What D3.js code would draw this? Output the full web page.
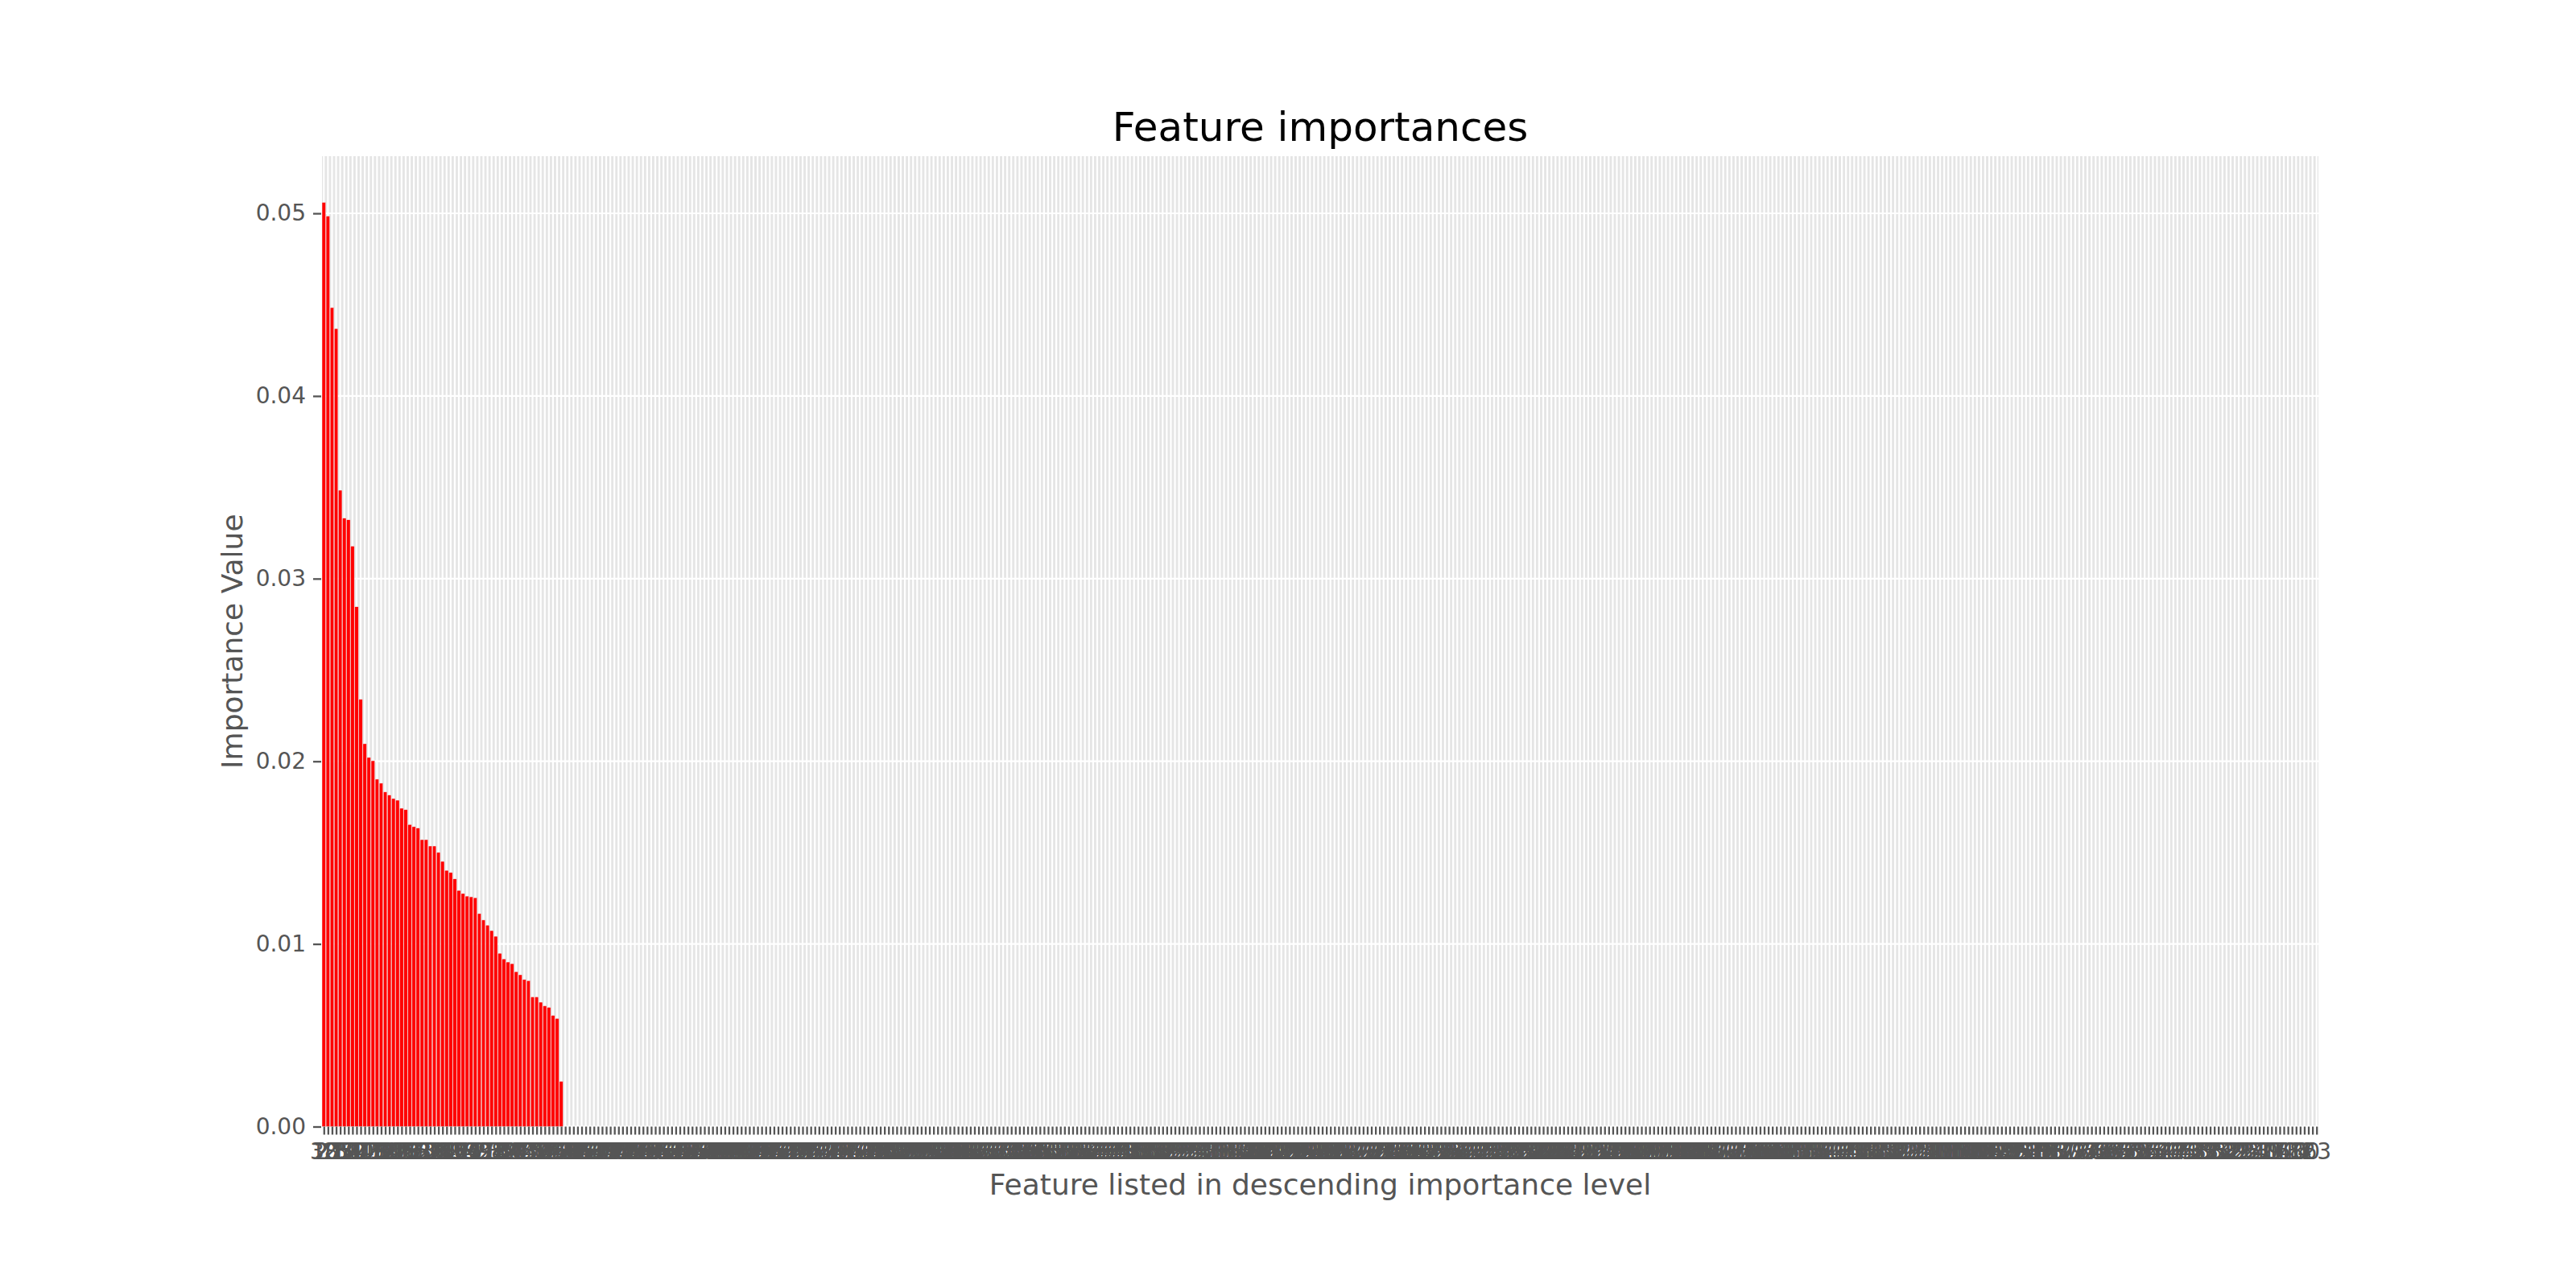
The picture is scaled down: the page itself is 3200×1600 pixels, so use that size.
<!DOCTYPE html>
<html>
<head>
<meta charset="utf-8">
<script src="https://cdn.jsdelivr.net/npm/d3@7"></script>
<style>
  html, body { margin: 0; padding: 0; background: #ffffff; }
  svg { display: block; font-family: "DejaVu Sans", sans-serif; }
</style>
</head>
<body>
<svg id="chart" width="3200" height="1600"></svg>
<script>
// ---- data ----
const chartTitle = "Feature importances";
const xAxisTitle = "Feature listed in descending importance level";
const yAxisTitle = "Importance Value";

// feature indices of the features that carry importance (descending order)
const topFeatures = [38, 27, 105, 212, 3, 250, 61, 190, 44, 301, 12, 77, 233, 158, 400, 9, 86, 345, 129, 270,
  18, 463, 55, 172, 290, 316, 101, 7, 222, 369, 140, 31, 84, 257, 411, 66, 199, 5, 123, 338,
  478, 92, 15, 240, 180, 357, 70, 21, 145, 265, 432, 110, 49, 207, 385, 1, 163, 296, 451];

// importance values of those features
const topImportances = [0.0506, 0.04985, 0.04484, 0.04369, 0.03484, 0.03331, 0.03322, 0.03178, 0.02846,
  0.02339, 0.02096, 0.02021, 0.02003, 0.01902, 0.01880, 0.01832, 0.01815, 0.01796, 0.01787,
  0.01743, 0.01735, 0.01654, 0.01642, 0.01634, 0.01571, 0.01571, 0.01536, 0.01536, 0.01501,
  0.01452, 0.01403, 0.01391, 0.01356, 0.01293, 0.01276, 0.01262, 0.01258, 0.01253, 0.01166,
  0.01131, 0.01103, 0.01073, 0.01042, 0.00949, 0.00918, 0.00901, 0.00892, 0.00848, 0.00831,
  0.00805, 0.00799, 0.00710, 0.00710, 0.00681, 0.00661, 0.00653, 0.00609, 0.00592, 0.00248];

// remaining features (importance 0), in the order they were listed
const zeroFeatures = [487,486,485,484,483,482,481,480,479,477,476,475,474,473,472,471,470,469,468,467,466,465,464,462,461,460,459,458,457,456,455,454,453,452,450,449,448,447,446,445,444,443,442,441,440,439,438,437,436,435,434,433,431,430,429,428,427,426,425,424,423,422,421,420,419,418,417,416,415,414,413,412,410,409,408,407,406,405,404,403,402,401,399,398,397,396,395,394,393,392,391,390,389,388,387,386,384,383,382,381,380,379,378,377,376,375,374,373,372,371,370,368,367,366,365,364,363,362,361,360,359,358,356,355,354,353,352,351,350,349,348,347,346,344,343,342,341,340,339,337,336,335,334,333,332,331,330,329,328,327,326,325,324,323,322,321,320,319,318,317,315,314,313,312,311,310,309,308,307,306,305,304,303,302,300,299,298,297,295,294,293,292,291,289,288,287,286,285,284,283,282,281,280,279,278,277,276,275,274,273,272,271,269,268,267,266,264,263,262,261,260,259,258,256,255,254,253,252,251,249,248,247,246,245,244,243,242,241,239,238,237,236,235,234,232,231,230,229,228,227,226,225,224,223,221,220,219,218,217,216,215,214,213,211,210,209,208,206,205,204,203,202,201,200,198,197,196,195,194,193,192,191,189,188,187,186,185,184,183,182,181,179,178,177,176,175,174,173,171,170,169,168,167,166,165,164,162,161,160,159,157,156,155,154,153,152,151,150,149,148,147,146,144,143,142,141,139,138,137,136,135,134,133,132,131,130,128,127,126,125,124,122,121,120,119,118,117,116,115,114,113,112,111,109,108,107,106,104,103,102,100,99,98,97,96,95,94,93,91,90,89,88,87,85,83,82,81,80,79,78,76,75,74,73,72,71,69,68,67,65,64,62,60,59,58,57,56,54,53,52,51,50,48,47,46,45,43,42,41,40,39,37,36,35,34,33,32,30,29,28,26,25,24,23,22,20,19,17,16,14,13,11,10,8,6,4,2,0,63];

const yTickValues = [0.00, 0.01, 0.02, 0.03, 0.04, 0.05];

// ---- table built from the arrays ----
const labels = topFeatures.concat(zeroFeatures).map(String);
const n = labels.length;
const barData = topImportances.map((v, i) => ({ pos: i, value: v }));

// ---- layout ----
const plot = { left: 400, right: 2880, top: 194, bottom: 1399.5 };
const svg = d3.select("#chart");
svg.append("rect").attr("width", 3200).attr("height", 1600).attr("fill", "#ffffff");

const x = d3.scaleLinear().domain([-0.45, n - 0.55]).range([plot.left, plot.right]);
const y = d3.scaleLinear().domain([0, d3.max(topImportances) * 1.05]).range([plot.bottom, plot.top]);
const step = x(1) - x(0);

// axes background
svg.append("rect")
  .attr("x", plot.left).attr("y", plot.top)
  .attr("width", plot.right - plot.left).attr("height", plot.bottom - plot.top)
  .attr("fill", "#E5E5E5");

// grid
const grid = svg.append("g");
grid.selectAll("line.v").data(d3.range(n)).join("line")
  .attr("class", "v")
  .attr("x1", d => x(d)).attr("x2", d => x(d))
  .attr("y1", plot.top).attr("y2", plot.bottom)
  .attr("stroke", "#ffffff").attr("stroke-width", 2.2);
grid.selectAll("line.h").data(yTickValues).join("line")
  .attr("class", "h")
  .attr("x1", plot.left).attr("x2", plot.right)
  .attr("y1", d => y(d)).attr("y2", d => y(d))
  .attr("stroke", "#ffffff").attr("stroke-width", 2.2);

// bars
svg.append("g").selectAll("rect").data(barData).join("rect")
  .attr("x", d => x(d.pos) - step * 0.45)
  .attr("width", step * 0.9)
  .attr("y", d => y(d.value))
  .attr("height", d => y(0) - y(d.value))
  .attr("fill", "#FF0000")
  .attr("stroke", "#EEEEEE")
  .attr("stroke-width", 0.5);

// y axis
const yAxis = d3.axisLeft(y).tickValues(yTickValues).tickFormat(d3.format(".2f"))
  .tickSize(10).tickPadding(9);
const gy = svg.append("g").attr("transform", `translate(${plot.left - 1},0)`).call(yAxis);
gy.select(".domain").remove();
gy.selectAll(".tick line").attr("stroke", "#555555").attr("stroke-width", 2.3);
gy.selectAll(".tick text").attr("fill", "#555555").attr("font-size", 28)
  .attr("font-family", "DejaVu Sans, sans-serif");

// x axis
const xAxis = d3.axisBottom(x).tickValues(d3.range(n)).tickFormat(i => labels[i])
  .tickSize(10).tickPadding(10);
const gx = svg.append("g").attr("transform", `translate(0,${plot.bottom})`).call(xAxis);
gx.select(".domain").remove();
gx.selectAll(".tick line").attr("stroke", "#555555").attr("stroke-width", 2.3);
gx.selectAll(".tick text").attr("fill", "#555555").attr("font-size", 28)
  .attr("font-family", "DejaVu Sans, sans-serif")
  .attr("dy", null).attr("y", 40.5).attr("dominant-baseline", "alphabetic");

// titles
svg.append("text").attr("x", (plot.left + plot.right) / 2).attr("y", 175)
  .attr("text-anchor", "middle").attr("font-size", 50).attr("fill", "#000000")
  .text(chartTitle);
svg.append("text").attr("x", (plot.left + plot.right) / 2).attr("y", 1484)
  .attr("text-anchor", "middle").attr("font-size", 36).attr("fill", "#555555")
  .text(xAxisTitle);
svg.append("text")
  .attr("transform", `translate(300.5,${(plot.top + plot.bottom) / 2}) rotate(-90)`)
  .attr("text-anchor", "middle").attr("font-size", 36).attr("fill", "#555555")
  .text(yAxisTitle);
</script>
</body>
</html>
